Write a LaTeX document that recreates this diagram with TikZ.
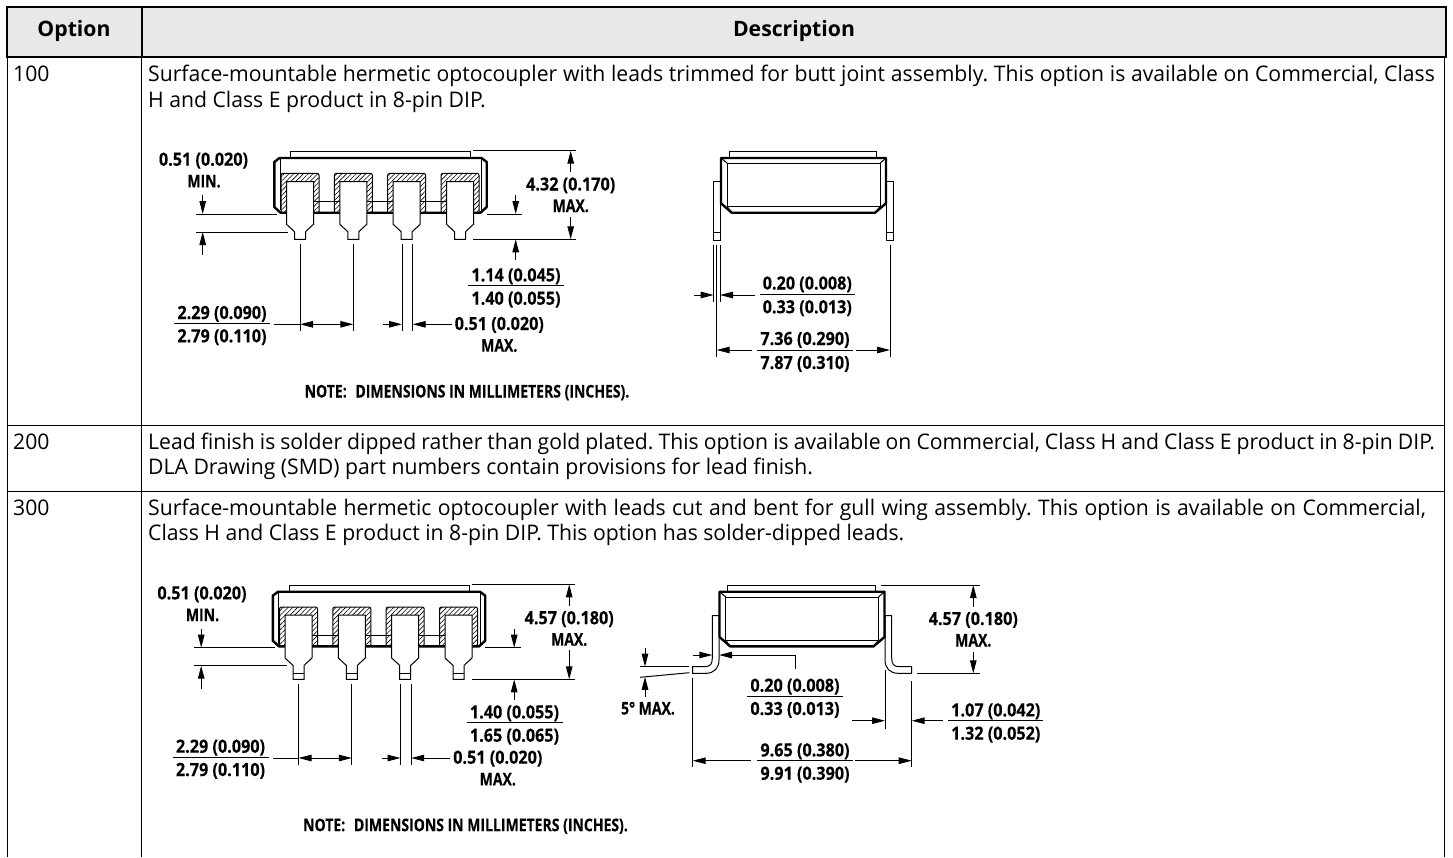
\documentclass[tikz,border=0pt]{standalone}
\usepackage{fontspec}
\setmainfont{Open Sans}
\newfontfamily\bodyfont[FakeStretch=0.985]{Open Sans}
\newfontfamily\dimfont[FakeStretch=0.89,FakeBold=0.2]{Open Sans}
\newfontfamily\capsfont[FakeStretch=0.8,FakeBold=0.2]{Open Sans}
\usepackage{tikz}
\usetikzlibrary{arrows.meta, patterns.meta}

\begin{document}
\frenchspacing
\begin{tikzpicture}[x=1pt, y=-1pt,
                >={Stealth[inset=0pt,length=13pt,width=6.5pt]},
                rowline/.style={line width=1pt},
                headbox/.style={line width=2pt, fill=black!9},
                dimline/.style={line width=1pt},
                outline/.style={line width=2.4pt, line join=round},
                partline/.style={line width=1pt},
                hatchcap/.style={line width=1pt, rounded corners=2pt, pattern={Lines[angle=45,distance=3.4pt,line width=.6pt]}},
                leadbody/.style={line width=1pt, fill=white},
                bodytext/.style={anchor=base west, inner sep=0pt, font=\fontsize{21.5}{24}\bodyfont},
                headtext/.style={anchor=base, inner sep=0pt, font=\fontsize{21.2}{24}\selectfont\bfseries},
                dimtext/.style={anchor=base, inner sep=0pt, font=\fontsize{18.2}{20}\dimfont\bfseries},
                dimcaps/.style={anchor=base, inner sep=0pt, font=\fontsize{17.5}{20}\capsfont\bfseries}
                ]
                \useasboundingbox (0,0) rectangle (1453,857);

                % Table
                \foreach \n/\cx/\cy in {top_l/7/7, top_m/141.7/7, top_r/1445.5/7, head_l/7/56.7, head_m/141.7/56.7, head_r/1445.5/56.7,
                                        foot_l/7/857, foot_m/141.7/857, foot_r/1444/857, body_r/1444/56.7,
                                        row_a_l/7/425, row_a_r/1444/425, row_b_l/7/491, row_b_r/1444/491}
                    \coordinate (\n) at (\cx,\cy);
                \path[headbox, draw] (top_l) rectangle (head_r);
                \draw[headbox] (top_m) -- (head_m);
                \path[rowline]
                (head_l) edge (foot_l)
                (head_m) edge (foot_m)
                (body_r) edge (foot_r)
                (row_a_l) edge (row_a_r)
                (row_b_l) edge (row_b_r);

                \node[headtext] (opt_head) at (74,36) {Option};
                \node[headtext] (desc_head) at (794,36) {Description};
                \node[bodytext] (opt_a) at (13,81.7) {100};
                \node[bodytext] (opt_b) at (13,449.3) {200};
                \node[bodytext] (opt_c) at (13,515) {300};
                \node[bodytext] (desc_a1) at (148,81.7) {\makebox[1286.7pt][s]{Surface-mountable hermetic optocoupler with leads trimmed for butt joint assembly. This option is available on Commercial, Class}};
                \node[bodytext] (desc_a2) at (148,107.3) {H and Class E product in 8-pin DIP.};
                \node[bodytext] (desc_b1) at (148,449.3) {\makebox[1286.7pt][s]{Lead finish is solder dipped rather than gold plated. This option is available on Commercial, Class H and Class E product in 8-pin DIP.}};
                \node[bodytext] (desc_b2) at (148,474.9) {DLA Drawing (SMD) part numbers contain provisions for lead finish.};
                \node[bodytext] (desc_c1) at (148,515) {\makebox[1277.7pt][s]{Surface-mountable hermetic optocoupler with leads cut and bent for gull wing assembly. This option is available on Commercial,}};
                \node[bodytext] (desc_c2) at (148,540.6) {Class H and Class E product in 8-pin DIP. This option has solder-dipped leads.};

                % Both option drawings
                \foreach \pn/\ox/\oy/\tip/\fr/\tipup/\tipdn/\over in {a/0/0/239.3/285.7/1.14 (0.045)/1.40 (0.055)/4.32 (0.170),
                                                                       b/-1.5/433.7/245.6/289/1.40 (0.055)/1.65 (0.065)/4.57 (0.180)} {
                \begin{scope}[shift={(\ox,\oy)}]
                    % Front view
                    \draw[partline] (290.7,158) |- (470.7,151.7) -- (470.7,158);
                    \draw[partline] (280,158) -- (280,210) (481.5,158) -- (481.5,210);
                    \draw[partline] (300,201.7) -- (460,201.7);
                    \draw[outline] (274.3,162) -- (279.5,158) -- (481.5,158) -- (486.7,162) -- (486.7,207) -- (480.5,212.7) -- (280.5,212.7) -- (274.3,207) -- cycle;
                    \foreach \lx in {300,353.3,406.7,460} {
                        \draw[hatchcap] ({\lx-19},212) -- ({\lx-19},173.3) -- ({\lx+19},173.3) -- ({\lx+19},212);
                        \draw[leadbody] ({\lx-13.5},181.5) -- ({\lx-13.5},224.3) -- ({\lx-5.5},231.7) -- ({\lx-5.5},\tip) -- ({\lx+5.5},\tip) -- ({\lx+5.5},231.7) -- ({\lx+13.5},224.3) -- ({\lx+13.5},181.5) -- cycle;
                        \draw[partline] ({\lx-5.5},239.6) -- ({\lx+5.5},239.6);
                    }
                    % Side view
                    \draw[partline] (729.3,158) |- (876.7,151.7) -- (876.7,158);
                    \draw[outline] (721,158) -- (886,158) -- (886,203.3) -- (875,212.7) -- (731.7,212.7) -- (721,203.3) -- cycle;
                    \draw[partline] (727.3,163.3) rectangle (880,206.7);
                    \draw[partline] (721,158) -- (727.3,163.3) (886,158) -- (880,163.3) (727.3,206.7) -- (731.7,212.7) (880,206.7) -- (875,212.7);

                    % Front view dimensions
                    \foreach \n/\cx/\cy in {seat_l/195.7/214, seat_r/276.7/214, seat_a/202.7/214, seat_o/202.7/195,
                                            shld_l/195.7/232, shld_r/288.3/232, shld_a/202.7/232, shld_o/202.7/255,
                                            base_l/486.7/214, base_r/522/214, base_a/515.7/214, base_o/515.7/195,
                                            roof_l/473/150.7, roof_r/576/150.7, roof_a/570.7/150.7, roof_o/570.7/172,
                                            tip_l/473/\tip, tip_r/576/\tip, tip_a/570.7/\tip, tip_o/570.7/216.5,
                                            up_a/515.7/\tip, up_o/515.7/\tip+20.7,
                                            span_l/300/\tip+5, span_le/300/331, span_r/353.3/\tip+5, span_re/353.3/331,
                                            gap_l/402/\tip+5, gap_le/402/331, gap_r/412.7/\tip+5, gap_re/412.7/331,
                                            span_al/300/324.3, span_ar/353.3/324.3, span_o/274/324.3,
                                            gap_al/402/324.3, gap_ar/412.7/324.3, gap_ol/383/324.3, gap_or/451.7/324.3}
                        \coordinate (\n_\pn) at (\cx,\cy);

                    \path[dimline]
                    (seat_l_\pn) edge (seat_r_\pn)
                    (shld_l_\pn) edge (shld_r_\pn)
                    (base_l_\pn) edge (base_r_\pn)
                    (roof_l_\pn) edge (roof_r_\pn)
                    (tip_l_\pn) edge (tip_r_\pn)
                    (span_l_\pn) edge (span_le_\pn)
                    (span_r_\pn) edge (span_re_\pn)
                    (gap_l_\pn) edge (gap_le_\pn)
                    (gap_r_\pn) edge (gap_re_\pn)
                    (span_o_\pn) edge (span_al_\pn);
                    \path[dimline,->]
                    (seat_o_\pn) edge (seat_a_\pn)
                    (shld_o_\pn) edge (shld_a_\pn)
                    (base_o_\pn) edge (base_a_\pn)
                    (up_o_\pn) edge (up_a_\pn)
                    (roof_o_\pn) edge (roof_a_\pn)
                    (tip_o_\pn) edge (tip_a_\pn)
                    (gap_ol_\pn) edge (gap_al_\pn)
                    (gap_or_\pn) edge (gap_ar_\pn);
                    \path[dimline,<->] (span_al_\pn) edge (span_ar_\pn);

                    \node[dimtext] (seat_top_\pn) at (203.5,165.7) {0.51 (0.020)};
                    \node[dimcaps] (seat_txt_\pn) at (204,187.4) {MIN.};
                    \node[dimtext] (over_top_\pn) at (570.7,190.5) {\over};
                    \node[dimcaps] (over_txt_\pn) at (570.7,212) {MAX.};
                    \node[dimtext] (gap_top_\pn) at (499.3,330) {0.51 (0.020)};
                    \node[dimcaps] (gap_txt_\pn) at (499.3,351.7) {MAX.};
                    \node[dimtext] (tip_top_\pn) at (516,\fr-4.3) {\tipup};
                    \node[dimtext] (tip_bot_\pn) at (516,\fr+19) {\tipdn};
                    \node[dimtext] (span_top_\pn) at (222,319) {2.29 (0.090)};
                    \node[dimtext] (span_bot_\pn) at (222,342.3) {2.79 (0.110)};
                    \node[dimcaps] (note_\pn) at (467,397.5) {NOTE:\enspace DIMENSIONS IN MILLIMETERS (INCHES).};
                    \draw[dimline] (468,\fr) -- (564,\fr);
                    \draw[dimline] (174.3,323.5) -- (270,323.5);
                \end{scope}
                }

                % Side leads and dimensions, option 100
                \draw[partline] (713.3,181) rectangle (720,240) (713.3,232.7) -- (720,232.7);
                \draw[partline] (886.7,181) rectangle (893.3,240) (886.7,232.7) -- (893.3,232.7);

                \foreach \n/\cx/\cy in {thin_l/713.7/245, thin_le/713.7/301.7, thin_r/720/245, thin_re/720/301.7,
                                        thin_al/713.7/295, thin_ar/720/295, thin_ol/694/295, thin_or/755/295,
                                        wide_l/716.7/245, wide_le/716.7/356.7, wide_r/890/245, wide_re/890/356.7,
                                        wide_al/716.7/350, wide_ar/890/350, wide_ol/751.7/350, wide_or/856/350,
                                        thin_ul/760/294.3, thin_ur/855/294.3, wide_ul/757.3/350, wide_ur/852.7/350}
                    \coordinate (\n) at (\cx,\cy);
                \path[dimline]
                (thin_l) edge (thin_le)
                (thin_r) edge (thin_re)
                (wide_l) edge (wide_le)
                (wide_r) edge (wide_re)
                (thin_ul) edge (thin_ur)
                (wide_ul) edge (wide_ur);
                \path[dimline,->]
                (thin_ol) edge (thin_al)
                (thin_or) edge (thin_ar)
                (wide_ol) edge (wide_al)
                (wide_or) edge (wide_ar);
                \node[dimtext] (thin_top) at (807.3,289.5) {0.20 (0.008)};
                \node[dimtext] (thin_bot) at (807.3,313.3) {0.33 (0.013)};
                \node[dimtext] (wide_top) at (805,345) {7.36 (0.290)};
                \node[dimtext] (wide_bot) at (805,369) {7.87 (0.310)};

                % Side leads and dimensions, option 300
                \draw[partline] (712.3,615.7) -- (712.3,658) .. controls (712.3,664) and (710,666.7) .. (705,666.7) -- (692.7,666.7) -- (692.7,673.3) -- (706,673.3) .. controls (714,673.3) and (719,668) .. (719,660) -- (719,615.7) -- cycle;
                \draw[partline] (891.7,615.7) -- (891.7,658) .. controls (891.7,664) and (894,666.7) .. (899,666.7) -- (911.7,666.7) -- (911.7,673.3) -- (898,673.3) .. controls (890,673.3) and (885,668) .. (885,660) -- (885,615.7) -- cycle;

                \foreach \n/\cx/\cy in {tilt_l/640/666.7, tilt_r/689.3/666.7, tilt_a/645/666.7, tilt_o/645/648.3,
                                        slant_l/640/677.3, slant_r/689.3/672.7, slant_a/645/676.8, slant_o/645/696.7,
                                        wall_al/712.3/655, wall_ar/719/655, wall_ol/692.7/655, wall_k/795/655, wall_e/795/669,
                                        high_l/880.7/585, high_r/980/585, high_a/973.3/585, high_o/973.3/606.7,
                                        low_l/916.7/673.3, low_r/980/673.3, low_a/973.3/673.3, low_o/973.3/651.7,
                                        toe_l/885/670, toe_le/885/729.3, toe_r/911.7/681, toe_re/911.7/766.7,
                                        toe_al/885/720.7, toe_ar/911.7/720.7, toe_ol/852.3/720.7, toe_or/942.7/720.7,
                                        span_c/692.7/678.3, span_ce/692.7/766.7,
                                        long_al/692.7/760.7, long_ar/911.7/760.7, long_ol/750.7/760.7, long_or/855/760.7,
                                        wall_ul/747.3/696, wall_ur/842.7/696, toe_ul/948.3/720.7, toe_ur/1043.3/720.7,
                                        long_ul/757.3/760.7, long_ur/852.7/760.7}
                    \coordinate (\n) at (\cx,\cy);
                \path[dimline]
                (tilt_l) edge (tilt_r)
                (slant_l) edge (slant_r)
                (wall_k) edge (wall_e)
                (high_l) edge (high_r)
                (low_l) edge (low_r)
                (toe_l) edge (toe_le)
                (toe_r) edge (toe_re)
                (span_c) edge (span_ce)
                (wall_ul) edge (wall_ur)
                (toe_ul) edge (toe_ur)
                (long_ul) edge (long_ur);
                \path[dimline,->]
                (tilt_o) edge (tilt_a)
                (slant_o) edge (slant_a)
                (wall_ol) edge (wall_al)
                (wall_k) edge (wall_ar)
                (high_o) edge (high_a)
                (low_o) edge (low_a)
                (toe_ol) edge (toe_al)
                (toe_or) edge (toe_ar)
                (long_ol) edge (long_al)
                (long_or) edge (long_ar);

                \node[dimcaps] (tilt_txt) at (648,714.5) {5° MAX.};
                \node[dimtext] (wall_top) at (795,691.7) {0.20 (0.008)};
                \node[dimtext] (wall_bot) at (795,715) {0.33 (0.013)};
                \node[dimtext] (high_top) at (973.3,625) {4.57 (0.180)};
                \node[dimcaps] (high_txt) at (973.3,646.5) {MAX.};
                \node[dimtext] (toe_top) at (995.8,716.4) {1.07 (0.042)};
                \node[dimtext] (toe_bot) at (995.8,739.7) {1.32 (0.052)};
                \node[dimtext] (long_top) at (805,756.4) {9.65 (0.380)};
                \node[dimtext] (long_bot) at (805,779.7) {9.91 (0.390)};
            \end{tikzpicture}
\end{document}
